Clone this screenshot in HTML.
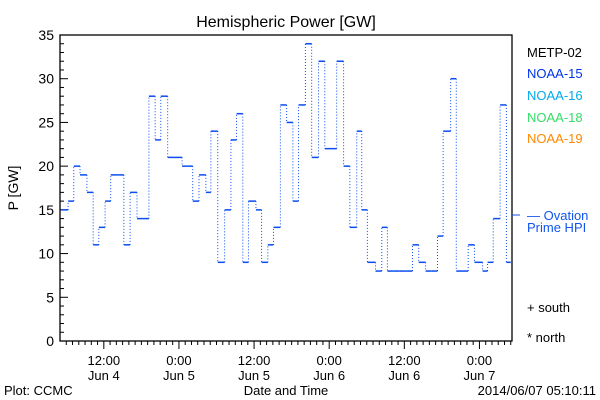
<!DOCTYPE html>
<html><head><meta charset="utf-8"><style>
body{margin:0;background:#fff;}
svg{display:block;font-family:"Liberation Sans",sans-serif;}
</style></head><body>
<svg id="chart" width="600" height="400" viewBox="0 0 600 400">
<rect width="600" height="400" fill="#fff"/>
<text x="286" y="27" font-size="16" text-anchor="middle">Hemispheric Power [GW]</text>
<rect x="60" y="35" width="452" height="306" fill="none" stroke="#000" stroke-width="1.3"/>
<g id="yaxis"></g>
<g id="xaxis"></g>
<g id="series"></g>
<text x="18" y="188" font-size="14" text-anchor="middle" transform="rotate(-90 18 188)">P [GW]</text>
<text x="286" y="395" font-size="13" text-anchor="middle">Date and Time</text>
<text x="4" y="395" font-size="13">Plot: CCMC</text>
<text x="596" y="395" font-size="13" text-anchor="end">2014/06/07 05:10:11</text>
<g font-size="13">
<text x="527" y="57" fill="#000">METP-02</text>
<text x="527" y="78" fill="#0033ee">NOAA-15</text>
<text x="527" y="100" fill="#00aaee">NOAA-16</text>
<text x="527" y="122" fill="#33dd66">NOAA-18</text>
<text x="527" y="143" fill="#ff8800">NOAA-19</text>
<line x1="512" y1="215" x2="520" y2="215" stroke="#1155ee"/>
<text x="527" y="220" fill="#1155ee">— Ovation</text>
<text x="527" y="232" fill="#1155ee">Prime HPI</text>
<text x="527" y="312" fill="#000">+ south</text>
<text x="527" y="342" fill="#000">* north</text>
</g>
</svg>
<script>
const stepHours=[0.2,1.3,2.2,3.2,4.3,5.3,6.2,7.2,8.1,9.3,10.2,11.2,12.3,13.2,14.2,15.2,16.1,17.2,18.3,19.5,20.4,21.2,22.2,23.3,24.1,25.2,26.3,27.3,28.2,29.2,30.1,31.3,32.2,33.2,34.1,35.2,36.2,37.2,38.1,39.2,40.2,41.3,42.3,43.2,44.2,45.3,46.3,47.4,48.2,49.1,50.4,51.4,52.3,53.3,54.2,55.3,56.3,57.3,58.4,59.3,60.3,61.2,62.4,63.3,64.3,65.2,66.2,67.5,68.3,69.2,70.3,71.3];
const powerValues=[15,16,20,19,17,11,13,16,19,19,11,17,14,14,28,23,28,21,21,20,20,16,19,17,24,9,15,23,26,9,16,15,9,11,13,27,25,16,27,34,21,32,22,22,32,20,13,24,15,9,8,13,8,8,8,8,11,9,8,8,12,24,30,8,8,11,9,8,9,14,27,9];
const yTicks=[0,5,10,15,20,25,30,35];
const xTickHours=[7,19,31,43,55,67];
const xTickTimes=["12:00","0:00","12:00","0:00","12:00","0:00"];
const xTickDays=["Jun 4","Jun 5","Jun 5","Jun 6","Jun 6","Jun 7"];
const endHour=72.0;
const NS="http://www.w3.org/2000/svg";
const L=60,R=512,T=35,B=341,H0=0,H1=72.2,Y0=0,Y1=35;
const x=h=>L+(h-H0)/(H1-H0)*(R-L);
const y=v=>B-(v-Y0)/(Y1-Y0)*(B-T);
function mk(tag,attrs,parent){const e=document.createElementNS(NS,tag);for(const k in attrs)e.setAttribute(k,attrs[k]);parent.appendChild(e);return e;}
const ya=document.getElementById('yaxis');
for(let v=0;v<=35;v++){
  const big=v%5===0;
  const t=mk('line',{x1:L,x2:L+(big?8:4),y1:y(v),y2:y(v),stroke:'#000'},ya);
  
  
}
yTicks.forEach(v=>{
  const t=mk('text',{x:L-6,y:y(v)+5,'font-size':14,'text-anchor':'end'},ya);
  t.textContent=v;
  
  
});
const xa=document.getElementById('xaxis');
for(let h=1;h<=72;h++){
  const big=xTickHours.includes(h);
  const t=mk('line',{x1:x(h),x2:x(h),y1:B,y2:B+(big?8:4),stroke:'#000'},xa);
  
  
}
xTickHours.forEach((h,i)=>{
  const a=mk('text',{x:x(h),y:365,'font-size':13,'text-anchor':'middle'},xa);
  a.textContent=xTickTimes[i];
  
  
  const b=mk('text',{x:x(h),y:380,'font-size':13,'text-anchor':'middle'},xa);
  b.textContent=xTickDays[i];
  
  
});
const sg=document.getElementById('series');
const col='#0a4cf0';
for(let i=0;i<powerValues.length;i++){
  const h0=stepHours[i],h1=i+1<stepHours.length?stepHours[i+1]:endHour;
  const s=mk('line',{x1:x(h0),x2:x(h1),y1:y(powerValues[i]),y2:y(powerValues[i]),stroke:col,'stroke-width':1.5},sg);
  
  
  if(i>0){
    const d=mk('line',{x1:x(h0),x2:x(h0),y1:y(powerValues[i-1]),y2:y(powerValues[i]),stroke:col,'stroke-width':1,'stroke-dasharray':'1 2'},sg);
    
    
  }
}
</script>
</body></html>
